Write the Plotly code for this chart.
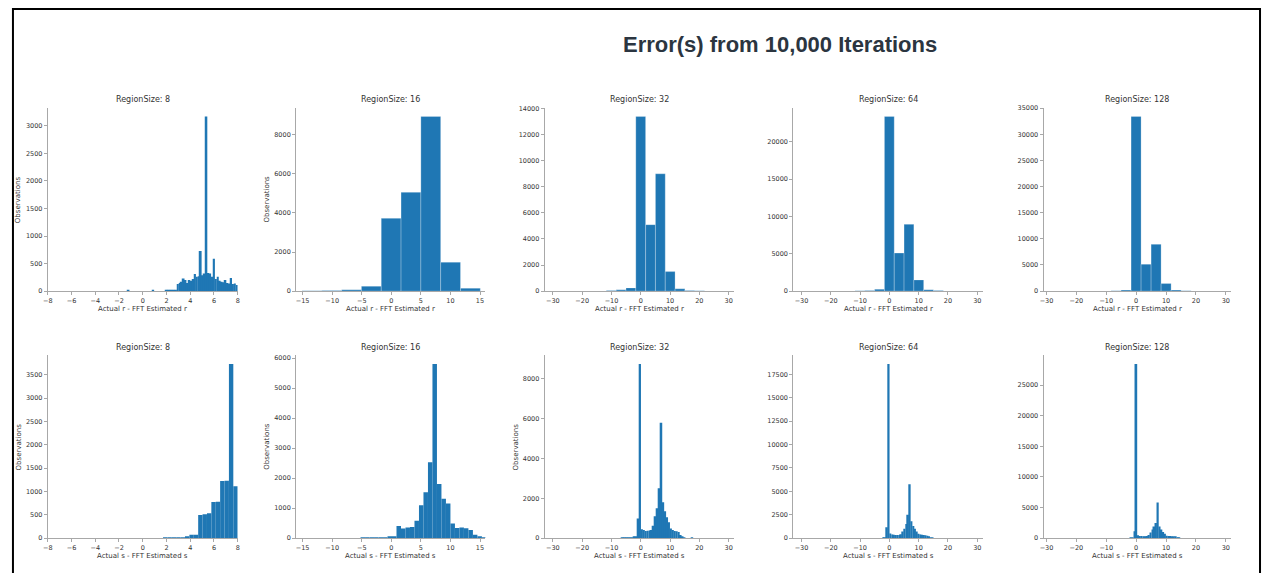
import plotly.graph_objects as go

W, H = 1265, 573

main_title = "Error(s) from 10,000 Iterations"
region_sizes = [8, 16, 32, 64, 128]
row_xlabels = ["Actual r - FFT Estimated r", "Actual s - FFT Estimated s"]
ylabel = "Observations"

# ---- row 1: r errors (bin start, bin width, counts) ----
r8_start, r8_width = -1.28, 0.16
r8_counts = [15, 0, 0, 0, 0, 0, 0, 0, 0, 0, 0, 0, 0, 10, 0, 0, 0, 0, 0, 0,
             15, 20, 15, 25, 20, 25,
             130, 150, 170, 230, 200, 150, 200, 190, 220, 310, 260, 270, 730, 290,
             320, 3170, 330, 320, 260, 590, 220, 260, 190, 170, 160, 200, 150, 140,
             240, 130, 140, 110]
r16_start, r16_width = -15.1, 3.35
r16_counts = [20, 30, 70, 250, 3720, 5050, 8930, 1480, 150]
r32_start, r32_width = -15.1, 3.35
r32_counts = [20, 40, 100, 250, 13400, 5100, 9000, 1500, 180, 50, 30]
r64_start, r64_width = -11.75, 3.35
r64_counts = [50, 80, 250, 23400, 5100, 8950, 1500, 200, 80]
r128_start, r128_width = -8.4, 3.35
r128_counts = [60, 200, 33400, 5150, 8950, 1450, 200, 60]

# ---- row 2: s errors ----
s8_start, s8_width = 1.71, 0.37
s8_counts = [10, 8, 10, 12, 15, 30, 70, 70, 495, 510, 530, 775, 780, 1225, 1230, 3730, 1110]
s16_start, s16_width = -5.2, 0.76
s16_counts = [20, 5, 15, 10, 15, 20, 30, 35, 400, 320, 350, 370, 580, 1090, 1530, 2530,
              5800, 1800, 1310, 1150, 490, 340, 350, 330, 270, 110, 50, 15]
s32_start, s32_width = -6.54, 0.66
s32_counts = [25, 30, 30, 35, 30, 35, 40, 45, 980, 8750, 450, 400, 360, 370, 380, 400,
              620, 1100, 1500, 2500, 5800, 1800, 1350, 1050, 800, 480, 400, 360, 340,
              300, 150, 60, 20, 0, 0, 0, 20]
s64_start, s64_width = -2.35, 0.6
s64_counts = [40, 60, 1150, 18600, 500, 380, 350, 340, 330, 340, 400, 700, 1000, 1500,
              2500, 5750, 1800, 1300, 1000, 700, 450, 380, 350, 320, 300, 250, 150, 70, 30]
s128_start, s128_width = -2.05, 0.6
s128_counts = [40, 80, 1100, 28450, 450, 350, 320, 300, 300, 330, 500, 900, 1400, 1900,
               2450, 5800, 1900, 1400, 1000, 700, 400, 350, 330, 300, 280, 200, 80, 30]

# axis limits and tick steps
x_ranges = [[-8, 8], [-16.1, 15.9], [-32.8, 31.9], [-32.8, 31.9], [-31.0, 31.9]]
x_dticks = [2, 5, 10, 10, 10]
y_dticks = [[500, 2000, 2000, 5000, 5000], [500, 1000, 2000, 2500, 5000]]
show_ylabel = [[True, True, False, False, False], [True, True, True, False, False]]

hists = [
    [(r8_start, r8_width, r8_counts), (r16_start, r16_width, r16_counts),
     (r32_start, r32_width, r32_counts), (r64_start, r64_width, r64_counts),
     (r128_start, r128_width, r128_counts)],
    [(s8_start, s8_width, s8_counts), (s16_start, s16_width, s16_counts),
     (s32_start, s32_width, s32_counts), (s64_start, s64_width, s64_counts),
     (s128_start, s128_width, s128_counts)],
]

# layout geometry in pixels
col_px = [(43, 234), (292.7, 483), (542.7, 733.3), (792.7, 983.3), (1044.3, 1233.3)]
row_px = [(106, 291.7), (356.7, 541.7)]

BLUE = "#1f77b4"
SPINE = "#a8a8a8"
TXT = "#333333"
FONT = "DejaVu Sans"

fig = go.Figure()
annotations = []
for r in range(2):
    for c in range(5):
        idx = r * 5 + c + 1
        sfx = "" if idx == 1 else str(idx)
        start, width, counts = hists[r][c]
        centers = [start + width * (i + 0.5) for i in range(len(counts))]
        coarse = width > 2
        fig.add_trace(go.Bar(
            x=centers, y=counts, width=[width] * len(counts),
            marker=dict(color=BLUE,
                        line=dict(color="rgba(255,255,255,0.35)" if coarse else BLUE,
                                  width=0.7 if coarse else 0)),
            xaxis=f"x{sfx}", yaxis=f"y{sfx}", showlegend=False, hoverinfo="x+y",
        ))
        x0, x1 = col_px[c]
        y0, y1 = row_px[r]
        common = dict(showgrid=False, zeroline=False, showline=True, linecolor=SPINE,
                      linewidth=1, ticks="outside", ticklen=3, tickwidth=1,
                      tickcolor=SPINE, tickfont=dict(family=FONT, size=6.5, color=TXT),
                      fixedrange=True)
        fig.layout[f"xaxis{sfx}"] = dict(
            domain=[x0 / W, x1 / W], anchor=f"y{sfx}", range=x_ranges[c],
            tick0=0, dtick=x_dticks[c], **common)
        fig.layout[f"yaxis{sfx}"] = dict(
            domain=[1 - y1 / H, 1 - y0 / H], anchor=f"x{sfx}",
            range=[0, 1.05 * max(counts)], tick0=0, dtick=y_dticks[r][c],
            tickformat="d", **common)
        annotations.append(dict(
            text=f"RegionSize: {region_sizes[c]}", xref=f"x{sfx} domain",
            yref=f"y{sfx} domain", x=0.5, y=1, yshift=8, xanchor="center",
            yanchor="middle", showarrow=False, font=dict(family=FONT, size=8, color=TXT)))
        annotations.append(dict(
            text=row_xlabels[r], xref=f"x{sfx} domain", yref=f"y{sfx} domain",
            x=0.5, y=0, yshift=-18, xanchor="center", yanchor="middle",
            showarrow=False, font=dict(family=FONT, size=7, color=TXT)))
        if show_ylabel[r][c]:
            annotations.append(dict(
                text=ylabel, xref=f"x{sfx} domain", yref=f"y{sfx} domain",
                x=0, y=0.5, xshift=-29, xanchor="center", yanchor="middle",
                textangle=-90, showarrow=False,
                font=dict(family=FONT, size=7, color=TXT)))

annotations.append(dict(
    text=main_title, xref="paper", yref="paper", x=779 / W, y=1 - 42 / H,
    xanchor="center", yanchor="middle", showarrow=False,
    font=dict(family="Liberation Sans, Arial, sans-serif", size=22, color="#2b3540",
              weight="bold")))

fig.update_layout(
    width=W, height=H, margin=dict(l=0, r=0, t=0, b=0),
    paper_bgcolor="white", plot_bgcolor="white",
    annotations=annotations, barmode="overlay",
    shapes=[dict(type="rect", xref="paper", yref="paper",
                 x0=8 / W, x1=1262 / W, y0=-0.05, y1=1 - 6 / H,
                 line=dict(color="black", width=2), fillcolor="rgba(0,0,0,0)",
                 layer="above")],
)

fig.write_html("out.html", config={"displayModeBar": False})
